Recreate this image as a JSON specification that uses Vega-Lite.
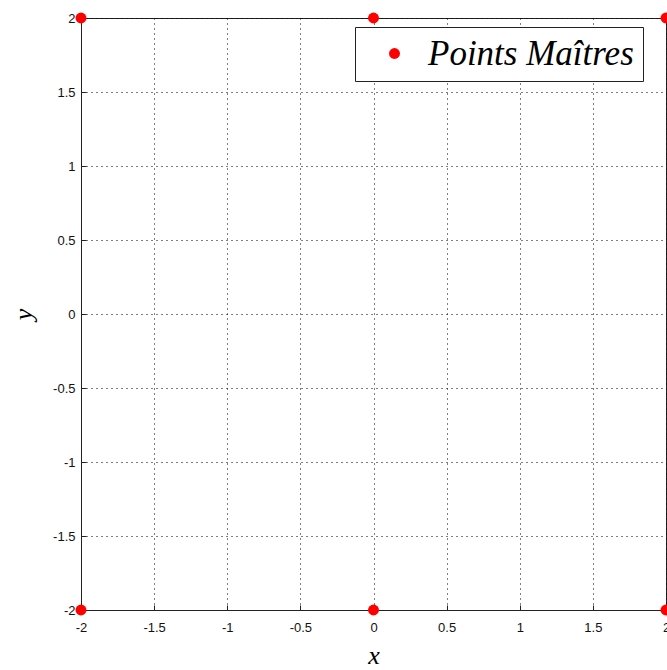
{
  "$schema": "https://vega.github.io/schema/vega-lite/v6.json",
  "width": 585,
  "height": 592,
  "autosize": {"type": "none"},
  "padding": {"left": 81, "top": 18, "right": 1, "bottom": 60},
  "background": "white",
  "config": {
    "view": {"stroke": "#222222", "strokeWidth": 1},
    "axis": {
      "domainColor": "#222222",
      "tickColor": "#222222",
      "tickSize": -5,
      "gridColor": "#000000",
      "gridDash": [1, 4],
      "gridOpacity": 1,
      "labelFont": "Liberation Sans",
      "labelFontSize": 13,
      "labelColor": "#111111",
      "titleFont": "Liberation Serif",
      "titleFontStyle": "italic",
      "titleFontWeight": "normal",
      "titleFontSize": 26,
      "titleColor": "#000000"
    }
  },
  "data": {
    "values": [
      {"x": -2, "y": 2, "series": "Points Maîtres"},
      {"x": 0, "y": 2, "series": "Points Maîtres"},
      {"x": 2, "y": 2, "series": "Points Maîtres"},
      {"x": -2, "y": -2, "series": "Points Maîtres"},
      {"x": 0, "y": -2, "series": "Points Maîtres"},
      {"x": 2, "y": -2, "series": "Points Maîtres"}
    ]
  },
  "mark": {"type": "point", "filled": true, "shape": "circle", "size": 120, "opacity": 1, "clip": false},
  "encoding": {
    "x": {
      "field": "x", "type": "quantitative",
      "scale": {"domain": [-2, 2], "nice": false, "zero": false},
      "axis": {"values": [-2, -1.5, -1, -0.5, 0, 0.5, 1, 1.5, 2], "labelExpr": "'' + datum.value", "labelPadding": 16, "title": "x", "titlePadding": 8, "labelFlush": false, "labelOverlap": false}
    },
    "y": {
      "field": "y", "type": "quantitative",
      "scale": {"domain": [-2, 2], "nice": false, "zero": false},
      "axis": {"values": [-2, -1.5, -1, -0.5, 0, 0.5, 1, 1.5, 2], "labelExpr": "'' + datum.value", "labelPadding": 11, "title": "y", "titlePadding": 16, "labelFlush": false, "labelOverlap": false}
    },
    "color": {
      "field": "series", "type": "nominal",
      "scale": {"range": ["#ff0000"]},
      "legend": {
        "title": null,
        "orient": "none",
        "legendX": 274,
        "legendY": 9,
        "direction": "vertical",
        "fillColor": "white",
        "strokeColor": "#222222",
        "padding": 9,
        "symbolType": "circle",
        "symbolSize": 120,
        "symbolStrokeWidth": 0,
        "labelFont": "Liberation Serif",
        "labelFontStyle": "italic",
        "labelFontSize": 35,
        "labelColor": "#000000",
        "labelOffset": 16,
        "symbolOffset": 13,
        "labelLimit": 400
      }
    }
  }
}
